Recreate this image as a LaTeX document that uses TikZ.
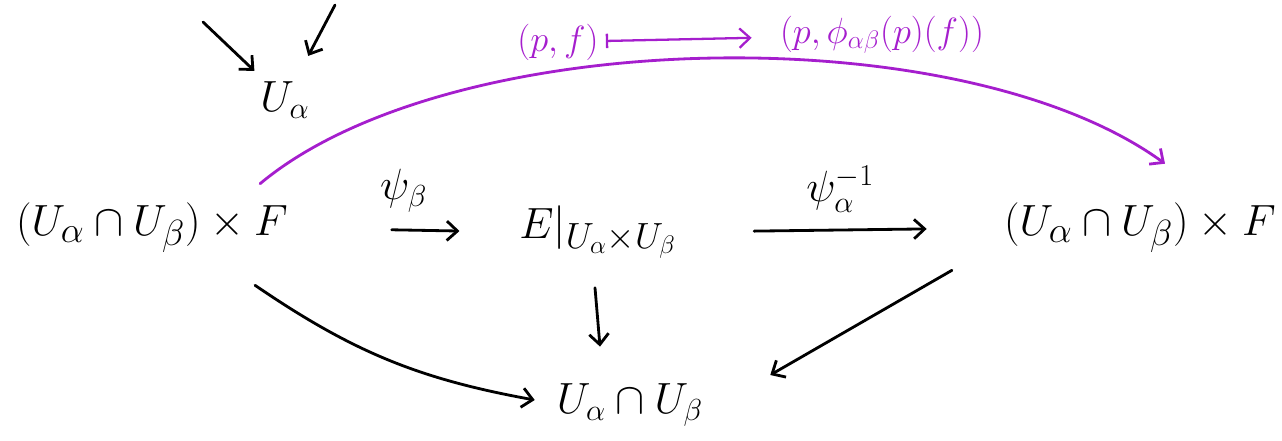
\documentclass[tikz,border=0pt]{standalone}
\usetikzlibrary{arrows.meta}
\definecolor{purp}{RGB}{165,30,205}
\begin{document}
\begin{tikzpicture}[x=0.02cm,y=-0.02cm,>={Straight Barb[length=6pt,width=11pt]},line width=1.6pt,line cap=round]
\def\bigtxt{\fontsize{28}{34}\selectfont}
\def\midtxt{\fontsize{24}{30}\selectfont}
\def\smtxt{\fontsize{22}{26}\selectfont}
\useasboundingbox (0,0) rectangle (1282,440);
\coordinate (ta) at (203,22);
\coordinate (tb) at (335,5);
\node (ua) at (285,100) {\midtxt $U_\alpha$};
\node (lhs) at (152,228) {\bigtxt $(U_\alpha\cap U_\beta)\times F$};
\node (mid) at (598,232) {\bigtxt $E|_{U_\alpha\times U_\beta}$};
\node (rhs) at (1140,228) {\bigtxt $(U_\alpha\cap U_\beta)\times F$};
\node (bot) at (630,405) {\midtxt $U_\alpha\cap U_\beta$};
\draw[->,shorten >=3pt] (ta) -- (ua);
\draw[->,shorten >=12pt] (tb) -- (ua);
\draw[->,shorten <=55pt,shorten >=30pt] (lhs.east) -- node[above=6pt] {\midtxt $\psi_\beta$} (mid.west);
\draw[->,shorten <=40pt,shorten >=40pt] (mid.east) -- node[above=6pt] {\midtxt $\psi_\alpha^{-1}$} (rhs.west);
\draw[->] ([shift={(-40,25)}]lhs.south east) to[bend right=12] ([shift={(-15,-5)}]bot.west);
\draw[->] ([shift={(-3,22)}]mid.south) -- ([shift={(-30,-30)}]bot.north);
\draw[->] ([shift={(-45,10)}]rhs.south west) -- ([shift={(60,-30)}]bot.east);
% transition map on the overlap
\draw[purp,->] ([shift={(-35,-12)}]lhs.north east) .. controls (450,25) and (960,15) .. ([shift={(25,-32)}]rhs.north);
\node[purp] (pf) at (558,42) {\smtxt $(p,f)$};
\node[purp] (img) at (882,35) {\smtxt $(p,\phi_{\alpha\beta}(p)(f))$};
\draw[purp,|->,line width=1.3pt,shorten >=12pt] (pf) -- (img);
\end{tikzpicture}
\end{document}
